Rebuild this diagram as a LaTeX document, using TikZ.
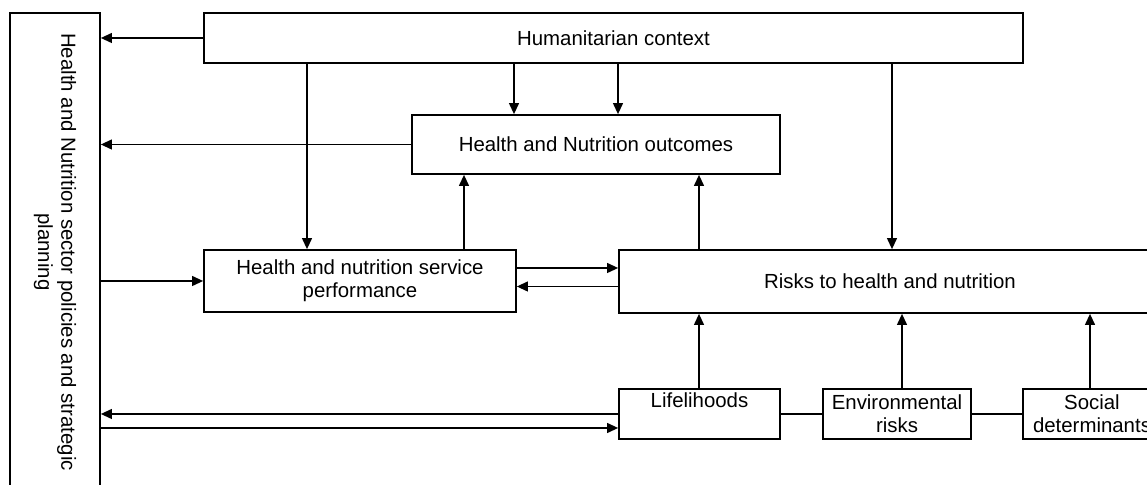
\documentclass[tikz,border=0pt]{standalone}
\usepackage{fontspec}
\setmainfont{Liberation Sans}
\usetikzlibrary{arrows.meta,calc}

\begin{document}
\begin{tikzpicture}[x=0.5pt, y=-0.5pt
        , every node/.style={font=\fontsize{10.2pt}{11.7pt}\selectfont}
        , box/.style={draw, line width=0.9pt, rectangle, align=center, inner sep=2pt}
        , arr/.style={line width=0.6pt, -{Triangle[length=5.5pt,width=5pt]}}
        , link/.style={line width=0.6pt}
    ]

    \useasboundingbox (0,0) rectangle (1147,485);

    %% policies box runs off the bottom of the page
    %% (rotated, so its north side is the right edge)
    \node[box, rotate=-90, minimum width=239pt, minimum height=45pt]
        (policy) at (55,252) {Health and Nutrition sector policies and strategic\\planning};

    \node[box, minimum width=409.5pt, minimum height=25pt] (hum) at (613.5,38) {Humanitarian context};
    \node[box, minimum width=184pt, minimum height=29.5pt] (out) at (596,144.5) {Health and Nutrition outcomes};
    \node[box, minimum width=156pt, minimum height=31pt] (serv) at (360,281) {Health and nutrition service\\performance};
    \node[box, minimum width=271pt, minimum height=31.5pt] (risk) at (890,281.5) {Risks to health and nutrition};

    % drivers of risk
    \node[box, minimum width=80.5pt, minimum height=25pt] (life) at (699.5,414) {Lifelihoods\\\phantom{g}};
    \node[box, minimum width=74pt, minimum height=25pt] (env) at (897,414) {Environmental\\risks};
    \node[box, minimum width=69pt, minimum height=25pt] (soc) at (1092,414) {Social\\determinants};

    \draw[link] (life) -- (env);
    \draw[link] (env) -- (soc);

    % back to the policy box
    \draw[arr] (hum.west) -- (hum.west -| policy.north);
    \draw[arr] (out.west) -- (out.west -| policy.north);
    \draw[arr] (serv.west -| policy.north) -- (serv.west);
    \draw[arr] (life.west) -- (life.west -| policy.north);
    \draw[arr] ([yshift=-7pt]life.west -| policy.north) -- ([yshift=-7pt]life.west);

    % context feeds down
    \draw[arr] (hum.south -| 307,0) -- (serv.north -| 307,0);
    \foreach \x in {514,618}
        \draw[arr] (hum.south -| \x,0) -- (out.north -| \x,0);
    \draw[arr] (hum.south -| 892,0) -- (risk.north -| 892,0);

    % up to outcomes
    \draw[arr] (serv.north -| 464,0) -- (out.south -| 464,0);
    \draw[arr] (risk.north -| 699,0) -- (out.south -| 699,0);

    % service <-> risks
    \draw[arr] ([yshift=6.5pt]serv.east) -- ([yshift=6.5pt]serv.east -| risk.west);
    \draw[arr] ([yshift=-2.5pt]risk.west) -- ([yshift=-2.5pt]risk.west -| serv.east);

    % drivers up to risks
    \draw[arr] (life.north -| 699,0) -- (risk.south -| 699,0);
    \draw[arr] (env.north -| 902,0) -- (risk.south -| 902,0);
    \draw[arr] (soc.north -| 1090,0) -- (risk.south -| 1090,0);
\end{tikzpicture}
\end{document}
